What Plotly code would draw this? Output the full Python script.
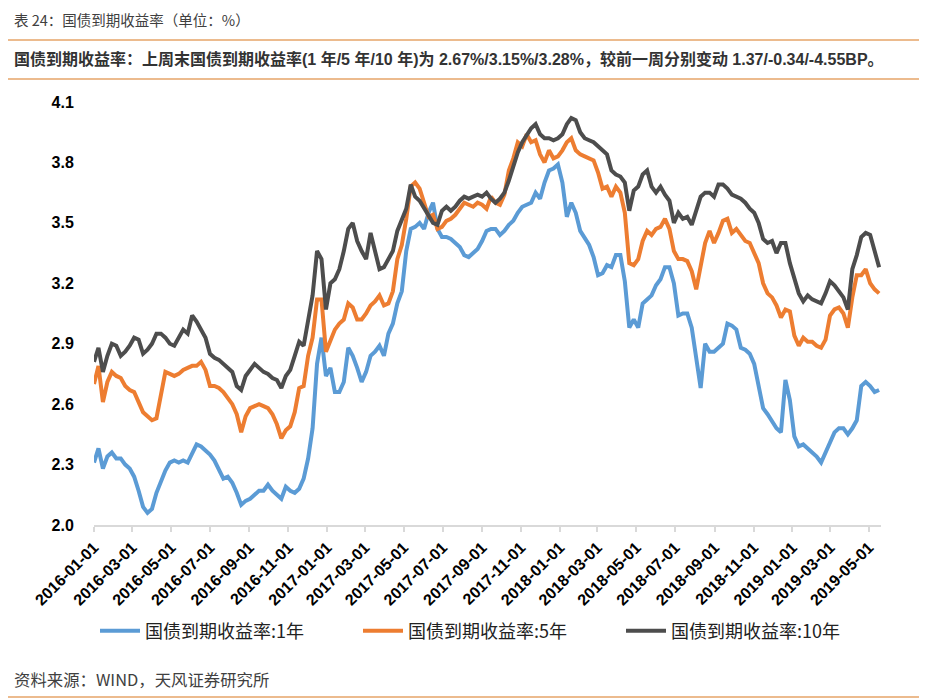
import pandas as pd
import plotly.graph_objects as go

start_date = "2016-01-01"
n_weeks = 177
dates = pd.date_range(start_date, periods=n_weeks, freq="7D")

yield_1y = [
    2.31, 2.38, 2.28, 2.34, 2.36, 2.33, 2.33, 2.30, 2.28, 2.24,
    2.17, 2.09, 2.06, 2.08, 2.16, 2.22, 2.27, 2.31, 2.32, 2.31,
    2.32, 2.31, 2.36, 2.40, 2.39, 2.37, 2.35, 2.32, 2.28, 2.23,
    2.24, 2.21, 2.16, 2.10, 2.12, 2.13, 2.15, 2.17, 2.17, 2.20,
    2.17, 2.15, 2.13, 2.19, 2.17, 2.16, 2.18, 2.23, 2.33, 2.48,
    2.80, 2.93, 2.74, 2.78, 2.66, 2.66, 2.71, 2.88, 2.84, 2.78,
    2.71, 2.76, 2.84, 2.86, 2.89, 2.84, 2.95, 3.00, 3.10, 3.16,
    3.36, 3.47, 3.48, 3.50, 3.47, 3.55, 3.60, 3.47, 3.43, 3.43,
    3.42, 3.40, 3.38, 3.34, 3.33, 3.35, 3.37, 3.41, 3.46, 3.47,
    3.47, 3.44, 3.46, 3.49, 3.51, 3.55, 3.58, 3.59, 3.60, 3.65,
    3.62, 3.70, 3.76, 3.77, 3.79, 3.70, 3.53, 3.60, 3.55, 3.46,
    3.42, 3.39, 3.33, 3.24, 3.25, 3.29, 3.28, 3.34, 3.34, 3.21,
    2.98, 3.02, 2.98, 3.10, 3.12, 3.14, 3.19, 3.22, 3.28, 3.28,
    3.20, 3.04, 3.05, 3.05, 2.98, 2.82, 2.68, 2.90, 2.86, 2.86,
    2.88, 2.90, 3.00, 2.99, 2.97, 2.88, 2.87, 2.85, 2.80, 2.70,
    2.58, 2.55, 2.51, 2.48, 2.46, 2.72, 2.62, 2.44, 2.39, 2.40,
    2.38, 2.36, 2.34, 2.31, 2.36, 2.42, 2.46, 2.48, 2.48, 2.45,
    2.48, 2.52, 2.69, 2.71, 2.69, 2.66, 2.67,
]

yield_5y = [
    2.70, 2.79, 2.61, 2.71, 2.76, 2.74, 2.73, 2.69, 2.67, 2.66,
    2.61, 2.56, 2.54, 2.52, 2.53, 2.65, 2.76, 2.75, 2.74, 2.75,
    2.77, 2.78, 2.79, 2.79, 2.81, 2.77, 2.69, 2.69, 2.68, 2.66,
    2.63, 2.60, 2.55, 2.46, 2.54, 2.58, 2.59, 2.60, 2.59, 2.58,
    2.55, 2.50, 2.43, 2.47, 2.49, 2.56, 2.68, 2.69, 2.84, 2.93,
    3.12, 3.12, 2.86, 2.92, 2.97, 3.00, 3.02, 3.10, 3.08, 3.02,
    3.02, 3.05, 3.09, 3.11, 3.14, 3.09, 3.10, 3.16, 3.32, 3.39,
    3.52, 3.68, 3.70, 3.67, 3.60, 3.53, 3.54, 3.47, 3.48, 3.51,
    3.52, 3.54, 3.57, 3.60, 3.59, 3.58, 3.60, 3.59, 3.57, 3.63,
    3.60, 3.59, 3.64, 3.76, 3.82, 3.90, 3.88, 3.94, 3.90, 3.91,
    3.84, 3.80, 3.86, 3.82, 3.83, 3.86, 3.90, 3.92, 3.86, 3.84,
    3.83, 3.82, 3.81, 3.75, 3.67, 3.68, 3.63, 3.68, 3.65, 3.55,
    3.30, 3.29, 3.32, 3.41, 3.46, 3.44, 3.47, 3.48, 3.52, 3.47,
    3.36, 3.32, 3.32, 3.31, 3.26, 3.17, 3.28, 3.40, 3.46, 3.40,
    3.45, 3.51, 3.52, 3.45, 3.47, 3.44, 3.41, 3.40, 3.35, 3.30,
    3.20, 3.15, 3.13, 3.09, 3.03, 3.07, 3.06, 2.94, 2.89, 2.93,
    2.91, 2.91, 2.89, 2.88, 2.92, 3.04, 3.07, 3.08, 3.05, 2.98,
    3.13, 3.24, 3.24, 3.27, 3.20, 3.17, 3.15,
]

yield_10y = [
    2.81, 2.88, 2.76, 2.84, 2.90, 2.89, 2.84, 2.86, 2.89, 2.93,
    2.92, 2.85, 2.87, 2.90, 2.95, 2.95, 2.93, 2.90, 2.89, 2.93,
    2.97, 2.95, 3.04, 3.01, 2.97, 2.93, 2.85, 2.83, 2.82, 2.80,
    2.78, 2.76, 2.69, 2.67, 2.74, 2.77, 2.80, 2.78, 2.76, 2.75,
    2.73, 2.72, 2.68, 2.74, 2.77, 2.84, 2.91, 2.89, 3.02, 3.14,
    3.36, 3.32, 3.07, 3.20, 3.22, 3.27, 3.36, 3.47, 3.50, 3.41,
    3.36, 3.32, 3.45, 3.36, 3.27, 3.28, 3.32, 3.36, 3.46, 3.52,
    3.57, 3.69, 3.63, 3.61, 3.57, 3.54, 3.50, 3.49, 3.56, 3.58,
    3.56, 3.58, 3.61, 3.63, 3.62, 3.63, 3.64, 3.63, 3.65, 3.62,
    3.60, 3.62, 3.65, 3.71, 3.78, 3.85, 3.90, 3.94, 3.97, 3.99,
    3.94, 3.92, 3.92, 3.91, 3.92, 3.94, 3.99, 4.02, 4.01, 3.95,
    3.92, 3.91, 3.90, 3.88, 3.86, 3.84, 3.76, 3.74, 3.73, 3.70,
    3.56, 3.66, 3.68, 3.74, 3.76, 3.68, 3.65, 3.68, 3.64, 3.61,
    3.50, 3.55, 3.52, 3.53, 3.49, 3.56, 3.63, 3.65, 3.65, 3.63,
    3.69, 3.69, 3.67, 3.64, 3.63, 3.62, 3.60, 3.57, 3.55, 3.50,
    3.42, 3.40, 3.41, 3.35, 3.40, 3.40, 3.30, 3.22, 3.15, 3.11,
    3.14, 3.12, 3.11, 3.10, 3.15, 3.21, 3.19, 3.16, 3.13, 3.07,
    3.27, 3.34, 3.43, 3.45, 3.44, 3.36, 3.28,
]

series_names = ["国债到期收益率:1年", "国债到期收益率:5年", "国债到期收益率:10年"]
series_colors = ["#5B9BD5", "#ED7D31", "#4D4D4D"]

tick_dates = [
    "2016-01-01", "2016-03-01", "2016-05-01", "2016-07-01", "2016-09-01", "2016-11-01",
    "2017-01-01", "2017-03-01", "2017-05-01", "2017-07-01", "2017-09-01", "2017-11-01",
    "2018-01-01", "2018-03-01", "2018-05-01", "2018-07-01", "2018-09-01", "2018-11-01",
    "2019-01-01", "2019-03-01", "2019-05-01",
]
y_ticks = [2.0, 2.3, 2.6, 2.9, 3.2, 3.5, 3.8, 4.1]

title_text = "表 24：国债到期收益率（单位：%）"
summary_text = ("国债到期收益率：上周末国债到期收益率(1 年/5 年/10 年)为 2.67%/3.15%/3.28%，"
                "较前一周分别变动 1.37/-0.34/-4.55BP。")
source_text = "资料来源：WIND，天风证券研究所"

# ---------------- layout geometry ----------------
W, H = 927, 700
OFF = 8  # page body margin offset
# plot area, in page pixels
PL, PR, PT, PB = 94, 881, 102, 525
fl, fr, ft, fb = PL - OFF, PR - OFF, PT - OFF, PB - OFF  # in figure pixels


def px_x(px):
    return (px - PL) / (PR - PL)


def px_y(py):
    return (PB - py) / (PB - PT)


FONT = "Liberation Sans, Arial, 'Noto Sans CJK SC', sans-serif"
CJK = "'Noto Sans CJK SC', 'Liberation Sans', sans-serif"
RULE = "#E6A468"

fig = go.Figure()
for vals, name, col in zip([yield_1y, yield_5y, yield_10y], series_names, series_colors):
    fig.add_trace(go.Scatter(x=dates, y=vals, mode="lines", name=name,
                             line=dict(color=col, width=4)))

fig.update_layout(
    width=W, height=H,
    margin=dict(l=fl, r=W - fr, t=ft, b=H - fb, autoexpand=False),
    paper_bgcolor="white", plot_bgcolor="white",
    showlegend=True,
    legend=dict(orientation="h", x=px_x(95), xanchor="left", y=px_y(631), yanchor="middle",
                font=dict(family=CJK, size=18, color="#222222"),
                entrywidth=208, entrywidthmode="pixels", itemwidth=40,
                bgcolor="rgba(0,0,0,0)"),
    xaxis=dict(type="date", range=["2016-01-01", "2019-05-20"],
               tickvals=tick_dates, tickformat="%Y-%m-%d", tickangle=-45,
               tickfont=dict(family=FONT, size=16, color="#000000", weight="bold"),
               showline=True, linecolor="#D9D9D9", linewidth=1.5,
               ticks="outside", ticklen=5, tickcolor="#D9D9D9", tickwidth=1.5,
               showgrid=False, zeroline=False),
    yaxis=dict(range=[2.0, 4.1], tickvals=y_ticks, tickformat=".1f",
               tickfont=dict(family=FONT, size=16, color="#000000", weight="bold"),
               ticks="outside", ticklen=16, tickcolor="rgba(0,0,0,0)",
               showline=False, showgrid=False, zeroline=False),
)

# header / footer rules
for py in [40, 79, 697]:
    fig.add_shape(type="line", xref="paper", yref="paper",
                  x0=px_x(0), x1=px_x(W + OFF), y0=px_y(py), y1=px_y(py),
                  line=dict(color=RULE, width=1.5))

fig.add_annotation(text=title_text, xref="paper", yref="paper", x=px_x(12), y=px_y(20),
                   xanchor="left", yanchor="middle", showarrow=False,
                   font=dict(family=CJK, size=14.5, color="#404040"))
fig.add_annotation(text="<b>" + summary_text + "</b>", xref="paper", yref="paper",
                   x=px_x(12), y=px_y(59), xanchor="left", yanchor="middle", showarrow=False,
                   font=dict(family=FONT, size=16, color="#333333"))
fig.add_annotation(text=source_text, xref="paper", yref="paper", x=px_x(12), y=px_y(679),
                   xanchor="left", yanchor="middle", showarrow=False,
                   font=dict(family=CJK, size=16.4, color="#404040"))

fig.write_html("out.html")
